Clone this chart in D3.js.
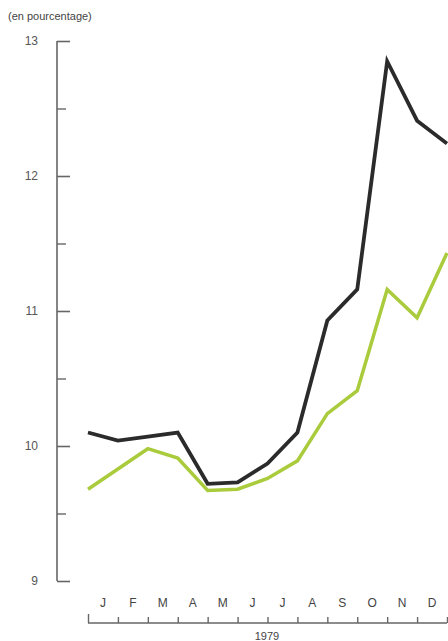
<!DOCTYPE html>
<html><head><meta charset="utf-8">
<script src="https://cdn.jsdelivr.net/npm/d3@7"></script>
<style>
body{margin:0;background:#fff;}
svg{display:block;font-family:"Liberation Sans",Arial,Helvetica,sans-serif;}
</style></head>
<body><svg id="c" width="448" height="641"></svg>
<script>
const months = ["J","F","M","A","M","J","J","A","S","O","N","D"];
const yearLabel = "1979";
const unitLabel = "(en pourcentage)";
const seriesDark = [10.10,10.04,10.07,10.10,9.72,9.73,9.87,10.10,10.93,11.16,12.85,12.41,12.24];
const seriesGreen = [9.68,9.83,9.98,9.91,9.67,9.68,9.76,9.89,10.24,10.41,11.16,10.95,11.43];
const yMajor = [9,10,11,12,13];
const yMinor = [9.5,10.5,11.5,12.5];

const svg = d3.select("#c");
const x = d3.scaleLinear().domain([0,12]).range([88,447]);
const y = d3.scaleLinear().domain([9,13]).range([581,41]);
const axisX = 57;

// y axis
const ga = svg.append("g").attr("transform",`translate(${axisX},0)`);
ga.call(d3.axisLeft(y).tickValues(yMajor).tickSize(-13).tickPadding(19).tickFormat(d3.format("d")));
ga.select(".domain").remove();
ga.append("line").attr("x1",0).attr("x2",0).attr("y1",y(13)).attr("y2",y(9)).attr("stroke","#666").attr("stroke-width",1.6);
ga.selectAll(".tick line").attr("stroke","#666").attr("stroke-width",1.6);
ga.selectAll(".tick text").attr("fill","#555").attr("font-size",12).style("font-family","'Liberation Sans',Arial,sans-serif");
const gm = svg.append("g").attr("transform",`translate(${axisX},0)`);
gm.call(d3.axisLeft(y).tickValues(yMinor).tickSize(-9).tickFormat(""));
gm.select(".domain").remove();
gm.selectAll(".tick line").attr("stroke","#666").attr("stroke-width",1.4);

// unit label
svg.append("text").attr("x",8).attr("y",20).attr("font-size",11).attr("fill","#444").text(unitLabel);

// x axis (months)
const xb = 623;
const gx = svg.append("g").attr("transform",`translate(0,${xb})`);
gx.call(d3.axisTop(x).tickValues(d3.range(0,13)).tickSize(6).tickFormat(""));
gx.select(".domain").remove();
gx.append("line").attr("x1",x(0)).attr("x2",x(12)).attr("y1",0).attr("y2",0).attr("stroke","#666").attr("stroke-width",1.6);
gx.selectAll(".tick line").attr("stroke","#666").attr("stroke-width",1.4);
gx.select(".tick line").attr("y2",-9);

svg.append("g").selectAll("text").data(months).join("text")
  .attr("x",(d,i)=>x(i+0.5)).attr("y",607).attr("text-anchor","middle")
  .attr("font-size",12).attr("fill","#444").text(d=>d);
svg.append("text").attr("x",267).attr("y",640).attr("text-anchor","middle").attr("font-size",11).attr("fill","#444").text(yearLabel);

// lines
const line = d3.line().x((d,i)=>x(i)).y(d=>y(d)).curve(d3.curveLinear);
svg.append("path").datum(seriesGreen).attr("d",line).attr("fill","none")
  .attr("stroke","#a9cb3c").attr("stroke-width",3.5).attr("stroke-linejoin","miter");
svg.append("path").datum(seriesDark).attr("d",line).attr("fill","none")
  .attr("stroke","#2b2b2b").attr("stroke-width",3.8).attr("stroke-linejoin","miter");
</script></body></html>
